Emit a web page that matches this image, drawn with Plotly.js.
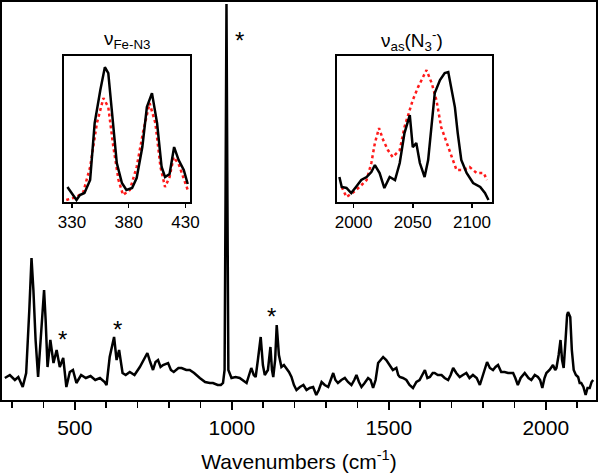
<!DOCTYPE html>
<html>
<head>
<meta charset="utf-8">
<script src="https://cdn.plot.ly/plotly-3.0.1.min.js"></script>
<style>html,body{margin:0;padding:0;background:#fff;}#chart{width:600px;height:476px;}</style>
</head>
<body>
<div id="chart"></div>
<script>
// Main Raman spectrum (wavenumber, relative intensity)
const mainWn = [277,293,309,320,334,345,355,362,368,375,383,392,402,407,413,422,432,442,452,463,473,484,494,505,520,535,550,565,580,595,601,611,625,633,641,652,662,675,690,707,720,731,740,749,757,765,773,781,797,806,815,830,840,855,866,880,898,915,930,940,955,965,972,977,980,983,986,989,999,1012,1025,1035,1047,1055,1062,1070,1076,1083,1092,1099,1105,1115,1123,1128,1132,1138,1143,1150,1158,1166,1174,1182,1190,1198,1206,1217,1228,1238,1248,1259,1269,1277,1286,1296,1307,1315,1323,1330,1338,1349,1360,1370,1381,1390,1397,1405,1413,1423,1434,1442,1450,1458,1466,1474,1482,1492,1503,1513,1524,1530,1535,1545,1556,1566,1577,1588,1598,1607,1615,1623,1631,1640,1646,1656,1668,1678,1689,1697,1705,1715,1726,1736,1747,1757,1768,1780,1790,1800,1813,1822,1832,1840,1848,1858,1869,1880,1896,1903,1911,1920,1933,1945,1954,1965,1975,1982,1989,1996,2002,2012,2023,2030,2034,2041,2047,2052,2057,2063,2068,2071,2078,2083,2089,2096,2103,2108,2113,2120,2127,2133,2140,2146,2151];
const mainInt = [22,25,20,23,13,27,90,142,110,60,23,60,110,80,33,60,37,50,33,42,13,28,30,17,25,22,24,20,22,18,15,43,63,40,50,27,25,28,25,33,40,47,38,30,38,40,33,35,37,30,28,32,32,30,30,27,22,18,17,17,15,15,17,30,200,396,200,30,22,23,22,20,17,25,32,25,23,40,63,35,25,30,53,30,23,40,75,45,33,35,32,28,23,15,10,13,15,10,12,13,5,10,18,15,13,20,27,20,17,20,22,18,15,20,25,18,13,17,22,20,12,20,37,40,43,40,35,30,32,25,23,22,20,15,12,18,20,25,30,22,23,27,27,25,25,22,20,25,32,27,23,25,27,22,25,22,15,25,38,32,30,33,35,28,28,27,27,22,15,22,27,22,20,25,23,20,12,22,27,30,35,30,32,45,60,40,32,60,85,88,83,50,30,25,23,17,17,13,5,12,12,18,20];

// Inset 1: nu(Fe-N3)
const feWn = [326,330,334,337,341,346,350,355,359,362,365,369.5,374,378,383,387,392,396,400.5,405,409,412,416,420,424,428.5,432];
const feBlack = [15,9,2,7,9,22,79,112,135,129,95,39,19,12,14,24,55,95,109,79,35,25,28,55,42,32,18];
const feRedWn = [325,334,340,346,352,357.7,362,366.5,371,375,381,387,393,398.4,403.5,408,412,416,419.6,424,428,432];
const feRed = [2,5,10,35,79,104,95,55,22,7,12,35,72,99,79,35,15,25,45,38,25,12];

// Inset 2: nu_as(N3-)
const asWn = [1988,1990,1994,1998,2002,2006.5,2011,2015,2018,2022,2026,2030.5,2035,2039,2043,2047.5,2050,2053,2056,2060,2063,2066,2068.6,2073,2077,2080,2083,2085.6,2088,2091,2095.5,2101,2107,2111,2114];
const asBlack = [25,15,14,9,15,22,25,30,37,29,14,25,22,39,69,87,55,59,39,25,42,79,109,122,129,130,112,95,69,42,29,19,15,9,2];
const asRedWn = [1990,1994,1999,2005,2011,2015,2018,2021.5,2025,2029,2033,2039,2043,2047,2050,2054.5,2059,2061.6,2066,2070,2074,2078.5,2083,2087,2092.6,2098,2104,2110,2112.7];
const asRed = [15,5,9,15,22,39,59,74,62,52,45,52,75,90,102,115,125,132,119,102,75,59,45,32,32,35,29,29,22];

const mainTicks = [500,1000,1500,2000];
const feTicks = [330,380,430];
const asTicks = [2000,2050,2100];
const starWn = [460,635,1126,1025];
const starInt = [68,78,91,367];

const FONT = '"Liberation Sans", Arial, sans-serif';
const red = {color:'#ff1a1a', width:2.5, dash:'dot'};
const blk = {color:'#000', width:2.5};

const traces = [
  {x:mainWn, y:mainInt, type:'scatter', mode:'lines', line:blk, xaxis:'x', yaxis:'y'},
  {x:feRedWn, y:feRed, type:'scatter', mode:'lines', line:red, xaxis:'x2', yaxis:'y2'},
  {x:feWn, y:feBlack, type:'scatter', mode:'lines', line:blk, xaxis:'x2', yaxis:'y2'},
  {x:asRedWn, y:asRed, type:'scatter', mode:'lines', line:red, xaxis:'x3', yaxis:'y3'},
  {x:asWn, y:asBlack, type:'scatter', mode:'lines', line:blk, xaxis:'x3', yaxis:'y3'}
];

const frame = {showline:true, mirror:true, linecolor:'#000', linewidth:2, showgrid:false, zeroline:false};

const annotations = [
  {xref:'paper', yref:'paper', x:0.2104, y:0.9045, xanchor:'center', yanchor:'middle', text:'ν<sub>Fe-N3</sub>', showarrow:false, font:{family:FONT, size:19, color:'#000'}},
  {xref:'paper', yref:'paper', x:0.690, y:0.9045, xanchor:'center', yanchor:'middle', text:'ν<sub>as</sub>(N<sub>3</sub><sup>-</sup>)', showarrow:false, font:{family:FONT, size:19, color:'#000'}}
];
starWn.forEach((w,i)=>annotations.push({xref:'x', yref:'y', x:w, y:starInt[i], xanchor:'center', yanchor:'middle', text:'*', showarrow:false, yshift:-7, font:{family:FONT, size:24, color:'#000'}}));

const layout = {
  width:600, height:476,
  margin:{l:2, r:4, t:2, b:76},
  paper_bgcolor:'#fff', plot_bgcolor:'#fff',
  showlegend:false,
  font:{family:FONT, color:'#000'},
  xaxis: Object.assign({}, frame, {
    range:[268,2160], tickvals:mainTicks, ticks:'outside', ticklen:8, tickwidth:1.5, tickcolor:'#000',
    tickfont:{family:FONT, size:21, color:'#000'},
    minor:{dtick:100, tick0:0, ticks:'outside', ticklen:6, tickwidth:1.5, tickcolor:'#000'},
    title:{text:'Wavenumbers (cm<sup>-1</sup>)', font:{family:FONT, size:21, color:'#000'}, standoff:16}
  }),
  yaxis: Object.assign({}, frame, {range:[0,398], showticklabels:false, ticks:''}),
  xaxis2: Object.assign({}, frame, {
    domain:[0.1044,0.3165], anchor:'y2', range:[323,434], tickvals:feTicks, ticks:'outside', ticklen:4, tickwidth:1.5, tickcolor:'#000',
    tickfont:{family:FONT, size:17, color:'#000'}
  }),
  yaxis2: Object.assign({}, frame, {domain:[0.4975,0.864], anchor:'x2', range:[0,146], showticklabels:false, ticks:''}),
  xaxis3: Object.assign({}, frame, {
    domain:[0.564,0.825], anchor:'y3', range:[1986,2117], tickvals:asTicks, ticks:'outside', ticklen:4, tickwidth:1.5, tickcolor:'#000',
    tickfont:{family:FONT, size:17, color:'#000'}
  }),
  yaxis3: Object.assign({}, frame, {domain:[0.4975,0.864], anchor:'x3', range:[0,146], showticklabels:false, ticks:''}),
  annotations: annotations
};

Plotly.newPlot('chart', traces, layout, {staticPlot:true, displayModeBar:false});
</script>
</body>
</html>
